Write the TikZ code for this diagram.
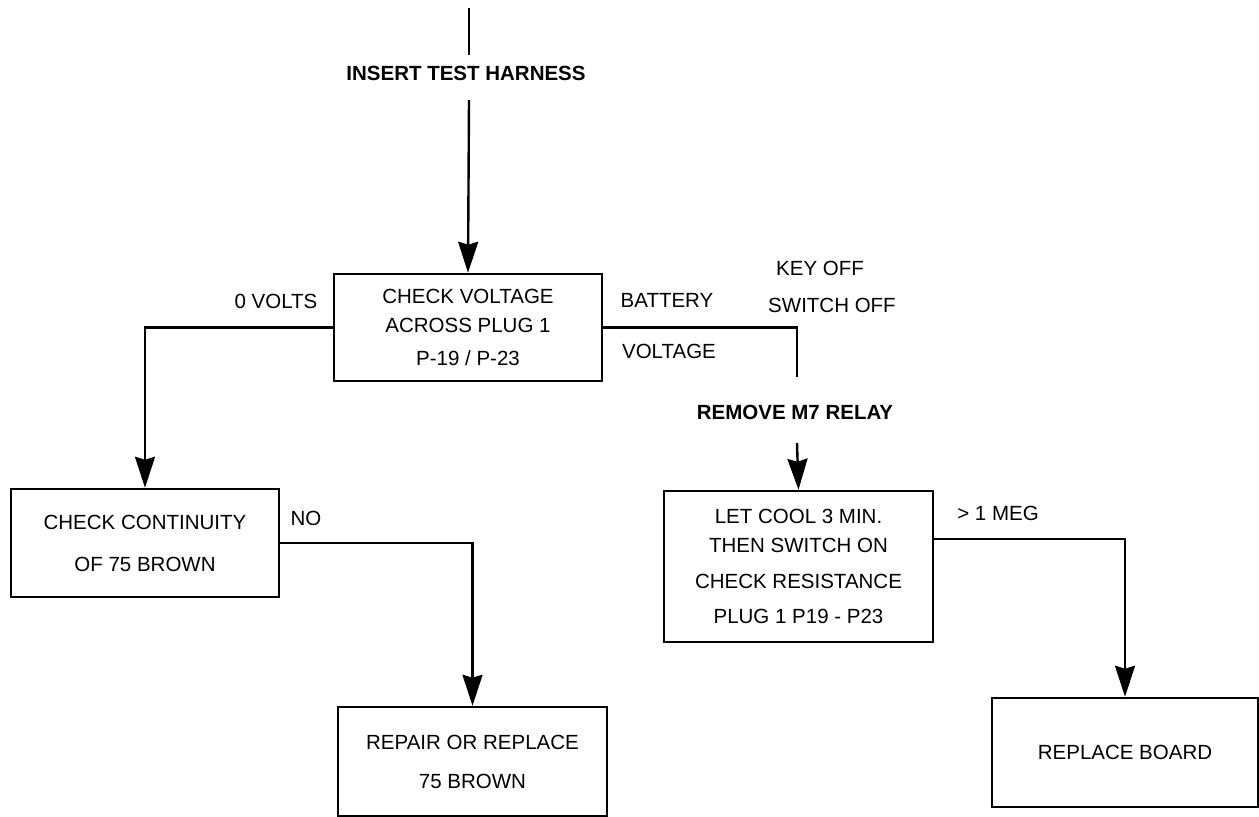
\documentclass[tikz,border=0pt]{standalone}
\usepackage{fontspec}
\setmainfont{Liberation Sans}
\usetikzlibrary{arrows.meta}
\begin{document}
\begin{tikzpicture}[x=1pt,y=-1pt,
  every node/.style={font=\fontsize{20.5}{29}\selectfont, inner sep=0pt},
  box/.style={draw, line width=2.5pt, align=center},
  lbl/.style={},
  bold/.style={font=\fontsize{20.5}{29}\selectfont\bfseries},
  conn/.style={line width=2.4pt},
  arr/.style={line width=2.4pt, -{Stealth[length=31pt,width=20pt,inset=3pt]}}
]
\useasboundingbox (0,0) rectangle (1259,817);

% boxes
\node[box, minimum width=268pt, minimum height=107pt] (box1) at (468,327.5)
  {CHECK VOLTAGE\\ACROSS PLUG 1\\[4pt]P-19 / P-23};
\node[box, minimum width=268pt, minimum height=108pt] (box2) at (145,543)
  {CHECK CONTINUITY\\[13pt]OF 75 BROWN};
\node[box, minimum width=269pt, minimum height=109pt] (box3) at (472.5,761.5)
  {REPAIR OR REPLACE\\[10pt]75 BROWN};
\node[box, minimum width=269pt, minimum height=151pt] (box4) at (798.5,566.5)
  {LET COOL 3 MIN.\\THEN SWITCH ON\\[7pt]CHECK RESISTANCE\\[6pt]PLUG 1 P19 - P23};
\node[box, minimum width=266pt, minimum height=109pt] (box5) at (1125,752.5)
  {REPLACE BOARD};

% free labels
\node[bold] (insert) at (466,73) {INSERT TEST HARNESS};
\node[bold] (remove) at (795,412) {REMOVE M7 RELAY};
\node[lbl] (zerov) at (276,301) {0 VOLTS};
\node[lbl] (no) at (306,518) {NO};
\node[lbl] (batt) at (667,300) {BATTERY};
\node[lbl] (volt) at (669,351) {VOLTAGE};
\node[lbl] (keyoff) at (820,268) {KEY OFF};
\node[lbl] (swoff) at (832,305) {SWITCH OFF};
\node[lbl] (meg) at (998,513) {> 1 MEG};

% coordinates for free ends
\coordinate (t0) at (469,8);
\coordinate (t1) at (469,55);
\coordinate (t2) at (469,100);
\coordinate (r1) at (797,377);
\coordinate (r2) at (797,443);

% connectors
\draw[conn] (t0) -- (t1);
\draw[arr] (t2) -- (box1.north);
\draw[arr] (box1.west) -| (box2.north);
\draw[conn] (box1.east) -| (r1);
\draw[arr] (r2) -- (box4.north);
\draw[arr] (box2.east) -| (box3.north);
\draw[arr] ([yshift=27.5pt]box4.east) -| (box5.north);
\end{tikzpicture}
\end{document}
